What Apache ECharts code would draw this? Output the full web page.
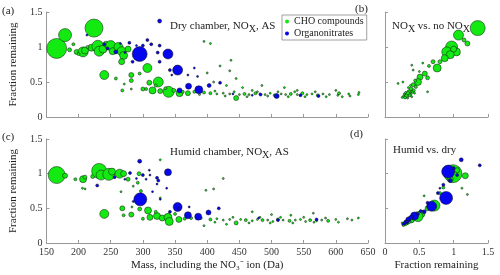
<!DOCTYPE html>
<html>
<head>
<meta charset="utf-8">
<script src="https://cdn.jsdelivr.net/npm/echarts@6/dist/echarts.min.js"></script>
<style>html,body{margin:0;padding:0;background:#fff}#c{width:500px;height:275px}</style>
</head>
<body>
<div id="c"></div>
<script>
// [mass (Da), fraction remaining, marker size]
var aCho = [[166,0.98,20],[179,1.17,13],[224,1.27,18],[192,1.04,3],[197,0.93,5],[207,0.93,10],[210,0.95,7],[220,0.99,7],[230,1.01,12],[232,0.94,10],[238,0.97,8],[243,1.04,6],[250,1.02,10],[253,0.94,7],[262,1.0,9],[267,0.94,9],[270,0.88,8],[267,0.79,6],[277,0.97,6],[240,0.60,9],[307,0.70,9],[295,0.62,3],[282,0.60,5],[282,0.52,4],[310,0.49,5],[324,0.50,10],[315,0.38,7],[340,0.36,11],[327,0.37,5],[357,0.34,7],[370,0.34,5],[445,0.27,5],[300,0.40,4],[268,0.38,3],[258,0.55,3],[271,0.47,2],[282,0.40,2],[186,0.96,4],[200,0.90,3],[214,1.0,3],[305,0.40,3],[320,0.45,3],[335,0.41,3],[348,0.38,4],[362,0.36,3],[380,0.36,3],[395,0.35,3],[405,0.34,3],[415,0.33,2],[425,0.34,2],[435,0.33,2],[450,0.32,2],[458,0.33,3],[465,0.32,2],[475,0.34,3],[482,0.33,2],[490,0.32,2],[498,0.34,2],[505,0.31,3],[515,0.33,2],[522,0.32,2],[530,0.33,3],[540,0.32,2],[548,0.34,3],[555,0.32,2],[563,0.33,2],[572,0.31,3],[580,0.33,2],[590,0.32,2],[605,0.34,3],[620,0.33,2],[635,0.32,2],[395,1.08,2],[405,1.05,2],[437,0.81,2],[435,0.66,2],[420,0.73,2],[400,0.63,2],[445,0.55,2],[455,0.42,2],[430,0.45,2],[600,0.38,2],[610,0.29,2],[520,0.42,2],[540,0.38,2],[410,0.50,2],[485,0.45,2],[470,0.38,2],[388,0.32,2],[412,0.37,2],[428,0.30,2],[442,0.36,2],[462,0.29,2],[478,0.36,2],[494,0.30,2],[510,0.36,2],[526,0.29,2],[536,0.36,2],[552,0.29,2],[568,0.36,2],[585,0.29,2],[603,0.31,2],[622,0.30,2],[636,0.35,2]];
var aOn = [[326,1.37,4],[295,0.90,15],[339,0.90,10],[354,0.67,10],[387,0.39,8],[371,0.44,6],[357,0.38,5],[403,0.45,4],[420,0.49,3],[279,1.06,3],[258,0.93,4],[284,0.79,3],[307,1.10,3],[313,1.04,3],[323,0.92,3],[326,1.02,3],[326,0.79,3],[342,0.67,3],[345,0.60,2],[240,1.04,3],[213,1.17,2],[272,0.92,2],[300,1.02,3],[370,0.60,2],[380,0.70,2],[385,0.58,2],[245,0.98,3],[265,1.05,2],[290,1.02,2],[483,0.32,3],[508,0.30,5],[545,0.31,3],[573,0.30,3],[440,0.33,2],[470,0.31,2]];
var bCho = [[1.35,1.27,15],[1.07,1.17,10],[1.20,1.05,5],[1.15,1.10,4],[0.97,1.0,12],[0.90,0.93,10],[1.04,0.93,8],[0.95,0.89,8],[0.87,0.84,7],[1.0,0.97,6],[0.80,0.79,4],[0.70,0.79,4],[0.76,0.70,8],[0.64,0.73,3],[0.58,0.62,5],[0.51,0.57,6],[0.62,0.56,4],[0.48,0.50,7],[0.41,0.46,4],[0.44,0.52,3],[0.38,0.40,4],[0.35,0.36,4],[0.33,0.33,5],[0.31,0.30,4],[0.29,0.28,3],[0.36,0.31,3],[0.40,0.36,3],[0.27,0.30,2],[0.30,0.35,2],[0.34,0.42,2],[0.42,0.38,3],[0.33,0.27,2],[0.38,0.33,2],[0.25,0.28,2],[0.28,0.33,2],[0.45,0.43,3],[0.37,0.45,2],[0.43,0.34,2],[0.39,0.29,2],[0.39,0.74,2],[0.55,0.77,2],[0.41,0.67,2],[0.26,0.50,2],[0.62,0.36,2],[0.19,0.48,2],[0.50,0.65,2]];
var cCho = [[166,0.98,17],[179,0.97,5],[195,0.92,3],[207,0.92,7],[210,0.95,4],[222,0.96,4],[232,1.04,15],[235,0.98,10],[247,0.99,12],[252,1.03,7],[264,1.0,9],[270,1.0,6],[277,0.92,4],[294,1.0,4],[292,0.87,3],[297,0.75,3],[240,0.42,9],[268,0.50,5],[282,0.41,5],[270,0.40,3],[295,0.49,4],[308,0.47,7],[311,0.37,6],[322,0.39,7],[330,0.36,6],[339,0.37,8],[341,0.31,8],[356,0.34,6],[300,0.35,3],[327,0.65,2],[327,1.20,2],[445,0.29,4],[206,0.79,2],[210,0.78,2],[266,0.74,2],[285,0.82,2],[283,0.52,2],[320,0.45,3],[350,0.42,3],[365,0.35,3],[375,0.36,3],[390,0.36,3],[405,0.34,3],[415,0.35,2],[425,0.33,2],[435,0.34,2],[452,0.34,2],[460,0.33,3],[470,0.32,2],[478,0.34,2],[486,0.33,3],[494,0.33,2],[502,0.31,2],[510,0.34,3],[518,0.33,2],[528,0.32,3],[537,0.33,2],[545,0.34,2],[553,0.31,2],[560,0.33,3],[570,0.32,2],[578,0.33,2],[588,0.32,3],[600,0.34,2],[618,0.35,2],[635,0.36,2],[425,0.93,2],[398,0.76,2],[410,0.78,2],[470,0.45,2],[500,0.41,2],[530,0.40,2],[565,0.43,2],[430,0.27,2],[395,0.25,2],[412,0.30,2],[440,0.37,2],[465,0.29,2],[482,0.37,2],[498,0.29,2],[514,0.37,2],[533,0.29,2],[550,0.37,2],[566,0.30,2],[584,0.36,2],[604,0.30,2],[625,0.33,2]];
var cOn = [[295,1.18,4],[339,1.02,7],[296,0.63,13],[354,0.52,9],[370,0.40,7],[386,0.38,7],[402,0.44,5],[418,0.50,3],[310,1.05,2],[311,0.98,2],[322,0.94,3],[324,0.90,3],[280,1.01,3],[256,0.95,3],[272,0.92,2],[229,0.83,3],[305,0.92,2],[322,0.85,2],[315,0.74,2],[337,0.79,2],[285,0.60,2],[327,0.63,2],[342,0.45,3],[355,0.50,2],[372,0.52,2],[290,0.93,2],[300,0.98,3],[510,0.33,3],[570,0.34,3],[480,0.36,2]];
var dCho = [[0.99,1.0,18],[1.17,0.97,6],[0.72,0.54,11],[0.53,0.42,7],[0.48,0.38,10],[0.38,0.34,7],[0.32,0.30,5],[0.30,0.28,4],[0.35,0.31,4],[0.42,0.36,4],[1.12,0.79,2],[1.20,0.70,2],[0.57,0.68,2],[0.95,0.92,6],[1.05,1.05,5],[0.85,0.80,3],[0.62,0.50,5],[0.27,0.26,3],[0.45,0.40,5],[0.80,0.72,3],[0.25,0.29,2]];
var dOn = [[0.92,1.03,13],[1.11,1.20,4],[1.38,1.12,3],[0.89,0.65,13],[0.68,0.53,10],[0.57,0.45,4],[0.43,0.39,8],[0.34,0.34,5],[0.85,0.84,3],[0.77,0.72,3],[0.30,0.30,4],[0.38,0.37,4],[0.28,0.28,3],[0.48,0.42,3],[1.0,1.08,3],[1.05,0.98,3],[0.95,0.90,4],[0.80,0.79,2],[0.62,0.58,3],[0.52,0.46,3],[0.26,0.27,2],[0.33,0.31,3]];

var FONT = 'Liberation Serif';
var GREEN = '#12ea12', BLUE = '#0505ee';
var axisCol = '#999';
function xAx(idx, min, max, interval, showLabels, name) {
  return {
    gridIndex: idx, type: 'value', min: min, max: max, interval: interval,
    axisLine: {show: true, onZero: false, lineStyle: {color: axisCol, width: 1}},
    axisTick: {show: true, inside: true, length: 3, lineStyle: {color: axisCol}},
    splitLine: {show: false},
    axisLabel: {show: showLabels, margin: 4, fontFamily: FONT, fontSize: 10, color: '#333'},
    name: name || '', nameLocation: 'middle', nameGap: 17,
    nameTextStyle: {fontFamily: FONT, fontSize: 11, color: '#222'}
  };
}
function yAx(idx, showLabels, name) {
  return {
    gridIndex: idx, type: 'value', min: 0, max: 1.5, interval: 0.5,
    axisLine: {show: true, onZero: false, lineStyle: {color: axisCol, width: 1}},
    axisTick: {show: true, inside: true, length: 3, lineStyle: {color: axisCol}},
    splitLine: {show: false},
    axisLabel: {show: showLabels, margin: 4, fontFamily: FONT, fontSize: 10, color: '#333'},
    name: name || '', nameLocation: 'middle', nameGap: 18,
    nameTextStyle: {fontFamily: FONT, fontSize: 11, color: '#222'}
  };
}
function sc(name, idx, data, color) {
  return {
    name: name, type: 'scatter', xAxisIndex: idx, yAxisIndex: idx, data: data,
    symbol: 'circle', symbolSize: function (v) { return v[2]; },
    itemStyle: {color: color, borderColor: '#111', borderWidth: 0.5, opacity: 1},
    emphasis: {disabled: true}, animation: false
  };
}
function txt(left, top, text, rich) {
  return {left: left, top: top, padding: 0, text: text,
    textStyle: {fontFamily: FONT, fontSize: 11, fontWeight: 'normal', color: '#222', rich: rich}};
}
var richSub = {
  n: {fontFamily: FONT, fontSize: 11, color: '#222'},
  s: {fontFamily: FONT, fontSize: 10, color: '#222', padding: [6, 0, 0, 0]}
};
var chart = echarts.init(document.getElementById('c'), null, {renderer: 'canvas'});
chart.setOption({
  backgroundColor: '#fff',
  animation: false,
  grid: [
    {left: 36, top: 12, width: 332, height: 105},
    {left: 385, top: 12, width: 103, height: 105},
    {left: 36, top: 139, width: 332, height: 104},
    {left: 385, top: 139, width: 103, height: 104}
  ],
  xAxis: [
    xAx(0, 150, 650, 50, false),
    xAx(1, 0, 1.5, 0.5, false),
    xAx(2, 150, 650, 50, true, 'Mass, including the NO\u2083\u207B ion (Da)'),
    xAx(3, 0, 1.5, 0.5, true, 'Fraction remaining')
  ],
  yAxis: [
    yAx(0, true, 'Fraction remaining'),
    yAx(1, false),
    yAx(2, true, 'Fraction remaining'),
    yAx(3, false)
  ],
  title: [
    txt(2, 6, '(a)'), txt(355, 4, '(b)'), txt(2, 132, '(c)'), txt(350, 129, '(d)'),
    txt(170, 18, '{n|Dry chamber, NO}{s|X}{n|, AS}', richSub),
    txt(170, 144, '{n|Humid chamber, NO}{s|X}{n|, AS}', richSub),
    txt(392, 18, '{n|NO}{s|X}{n| vs. no NO}{s|X}', richSub),
    txt(393, 145, 'Humid vs. dry')
  ],
  legend: {
    data: ['CHO compounds', 'Organonitrates'],
    orient: 'vertical', left: 282, top: 15, itemWidth: 4, itemHeight: 4, itemGap: 1,
    padding: [1, 3, 1, 3], backgroundColor: '#fff', borderColor: '#888', borderWidth: 0.8,
    icon: 'circle',
    itemStyle: {borderWidth: 0},
    textStyle: {fontFamily: FONT, fontSize: 10, color: '#222', lineHeight: 11}
  },
  series: [
    sc('CHO compounds', 0, aCho, GREEN),
    sc('Organonitrates', 0, aOn, BLUE),
    sc('CHO compounds', 1, bCho, GREEN),
    sc('CHO compounds', 2, cCho, GREEN),
    sc('Organonitrates', 2, cOn, BLUE),
    sc('CHO compounds', 3, dCho, GREEN),
    sc('Organonitrates', 3, dOn, BLUE)
  ]
});
</script>
</body>
</html>
